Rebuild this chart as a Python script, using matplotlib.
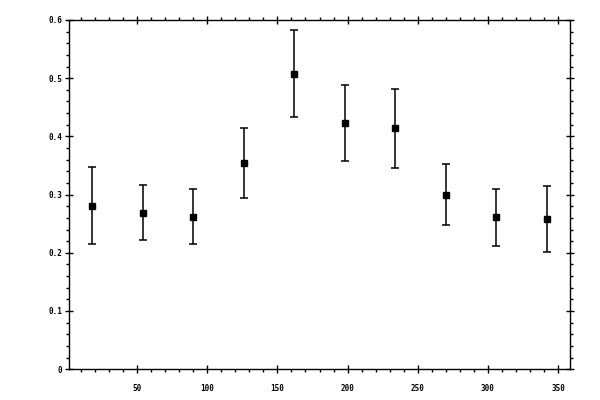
import matplotlib
matplotlib.use('Agg')
import matplotlib.pyplot as plt
from matplotlib.ticker import MultipleLocator, FuncFormatter

# data
angle = [18, 54, 90, 126, 162, 198, 234, 270, 306, 342]
value = [0.281, 0.269, 0.262, 0.355, 0.508, 0.423, 0.414, 0.300, 0.261, 0.258]
err = [0.066, 0.047, 0.047, 0.060, 0.074, 0.066, 0.068, 0.053, 0.049, 0.057]

fig = plt.figure(figsize=(6, 4), dpi=100)
ax = fig.add_axes([0.115, 0.077, 0.835, 0.873])

ax.errorbar(angle, value, yerr=err, fmt='s', color='black', ms=5,
            elinewidth=1.1, capsize=3, capthick=1.1)

ax.set_xlim(1.5, 358.5)
ax.set_ylim(0, 0.6)

ax.xaxis.set_major_locator(MultipleLocator(50))
ax.xaxis.set_minor_locator(MultipleLocator(10))
ax.yaxis.set_major_locator(MultipleLocator(0.1))
ax.yaxis.set_minor_locator(MultipleLocator(0.02))
ax.yaxis.set_major_formatter(FuncFormatter(lambda v, p: '0' if abs(v) < 1e-9 else f'{v:.1f}'))

for s in ax.spines.values():
    s.set_linewidth(1.0)

ax.tick_params(which='major', direction='inout', length=6, width=1,
               top=True, right=True, labelsize=5.5)
ax.tick_params(which='minor', direction='out', length=2.4, width=1,
               top=True, right=True)
ax.tick_params(axis='x', which='major', pad=8)
ax.tick_params(axis='y', which='major', pad=2)
for lab in ax.get_xticklabels() + ax.get_yticklabels():
    lab.set_family('DejaVu Sans Mono')
    lab.set_weight('bold')

fig.savefig('out.png', dpi=100)
